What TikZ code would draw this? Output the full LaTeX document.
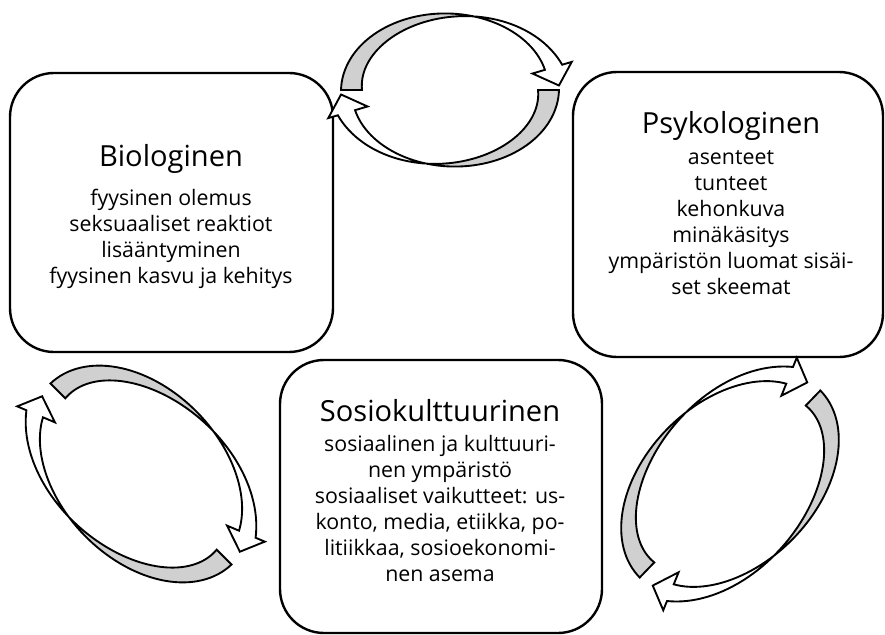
\documentclass[tikz,border=0pt]{standalone}
\usepackage{fontspec}
\setmainfont{Open Sans}
\definecolor{ribbongray}{RGB}{208,208,208}

% ribbon offsets (px) of the two edges at the tail and at the head
\def\dOs{0}\def\dOe{-10}
\def\dIs{-21}\def\dIe{8}
\def\kq{0.4}

\tikzset{
  box/.style={draw, line width=1.8pt, rounded corners=33pt, inner sep=0pt},
  ttl/.style={font=\fontsize{21.8}{26}\selectfont, inner sep=0pt},
  txt/.style={font=\fontsize{16}{19.5}\selectfont, align=center, inner sep=0pt},
  ribbon/.style={line width=1.4pt, line join=miter},
  declare function={
    fr(\x)=(180-\x)/(180-\rgTE);
    gq(\x)=fr(\x)*((1-\kq)+\kq*fr(\x));
    dO(\x)=(\dOs)+((\dOe)-(\dOs))*gq(\x);
    dI(\x)=(\dIs)+((\dIe)-(\dIs))*gq(\x);
  }
}

% twisted ring arrow: #1 = x radius, #2 = y radius, #3 = angle of the head base
\newcommand\ringarrow[3]{%
  \pgfmathsetmacro\rgA{#1}%
  \pgfmathsetmacro\rgB{#2}%
  \pgfmathsetmacro\rgTE{#3}%
  \pgfmathsetmacro\rgPax{(\rgA+(\dOe))*cos(\rgTE)}%
  \pgfmathsetmacro\rgPay{(\rgB+(\dOe))*sin(\rgTE)}%
  \pgfmathsetmacro\rgPbx{(\rgA+(\dIe))*cos(\rgTE)}%
  \pgfmathsetmacro\rgPby{(\rgB+(\dIe))*sin(\rgTE)}%
  \pgfmathsetmacro\rgWl{veclen(\rgPbx-\rgPax,\rgPby-\rgPay)}%
  \pgfmathsetmacro\rgWx{(\rgPbx-\rgPax)/\rgWl}%
  \pgfmathsetmacro\rgWy{(\rgPby-\rgPay)/\rgWl}%
  \pgfmathsetmacro\rgFax{\rgPax-13*\rgWx}%
  \pgfmathsetmacro\rgFay{\rgPay-13*\rgWy}%
  \pgfmathsetmacro\rgFbx{\rgPbx+10*\rgWx}%
  \pgfmathsetmacro\rgFby{\rgPby+10*\rgWy}%
  \pgfmathsetmacro\rgTx{(\rgPax+\rgPbx)/2+19*\rgWy}%
  \pgfmathsetmacro\rgTy{(\rgPay+\rgPby)/2-19*\rgWx}%
  \pgfmathsetmacro\rgGc{((\dIs)-(\dOs))/(((\dIs)-(\dOs))-((\dIe)-(\dOe)))}%
  \pgfmathsetmacro\rgSc{(-(1-\kq)+sqrt((1-\kq)^2+4*\kq*\rgGc))/(2*\kq)}%
  \pgfmathsetmacro\rgTC{180-\rgSc*(180-\rgTE)}%
  \def\rgOutline{plot[domain=180:\rgTE, samples=60] ({(\rgA+dO(\x))*cos(\x)},{(\rgB+dO(\x))*sin(\x)})
    -- (\rgFax,\rgFay) -- (\rgTx,\rgTy) -- (\rgFbx,\rgFby)
    -- plot[domain=\rgTE:180, samples=60] ({(\rgA+dI(\x))*cos(\x)},{(\rgB+dI(\x))*sin(\x)}) -- cycle}%
  \fill[white] \rgOutline;
  \fill[ribbongray] plot[domain=180:\rgTC, samples=40] ({(\rgA+dO(\x))*cos(\x)},{(\rgB+dO(\x))*sin(\x)})
    -- plot[domain=\rgTC:180, samples=40] ({(\rgA+dI(\x))*cos(\x)},{(\rgB+dI(\x))*sin(\x)}) -- cycle;
  \draw[ribbon] \rgOutline;
}

\begin{document}
\begin{tikzpicture}[x=0.75pt, y=-0.75pt]
\useasboundingbox (0,0) rectangle (885,635);

% the three boxes
\node[box, minimum width=242.25pt, minimum height=209.25pt] (bio) at (171.5,212.5) {};
\node[box, minimum width=232.5pt, minimum height=213.75pt] (psy) at (728,214.5) {};
\node[box, minimum width=241.5pt, minimum height=204.75pt] (sos) at (441,496.5) {};

\node[ttl] (bioT) at (171,159) {Biologinen};
\node[txt] (bioB) at (171,238.5) {fyysinen olemus\\seksuaaliset reaktiot\\lisääntyminen\\fyysinen kasvu ja kehitys};

\node[ttl] (psyT) at (731,126) {Psykologinen};
\node[txt] (psyB) at (731,223) {asenteet\\tunteet\\kehonkuva\\minäkäsitys\\ympäristön luomat sisäi-\\set skeemat};

\node[ttl] (sosT) at (440,411) {Sosiokulttuurinen};
\node[txt] (sosB) at (440,508) {sosiaalinen ja kulttuuri-\\nen ympäristö\\sosiaaliset vaikutteet: us-\\konto, media, etiikka, po-\\litiikkaa, sosioekonomi-\\nen asema};

% cycle arrows between the boxes
\begin{scope}[shift={(450,90)}, x=0.75pt, y=0.75pt]
  \ringarrow{109}{81}{16.5}
  \begin{scope}[rotate=180]\ringarrow{109}{81}{16.5}\end{scope}
\end{scope}

\begin{scope}[shift={(141,474)}, x=0.75pt, y=0.75pt, rotate=-45]
  \ringarrow{128}{88}{22}
  \begin{scope}[rotate=180]\ringarrow{128}{88}{22}\end{scope}
\end{scope}

\begin{scope}[shift={(730,484)}, x=0.75pt, y=0.75pt, rotate=46]
  \ringarrow{130}{88}{22}
  \begin{scope}[rotate=180]\ringarrow{130}{88}{22}\end{scope}
\end{scope}
\end{tikzpicture}
\end{document}
